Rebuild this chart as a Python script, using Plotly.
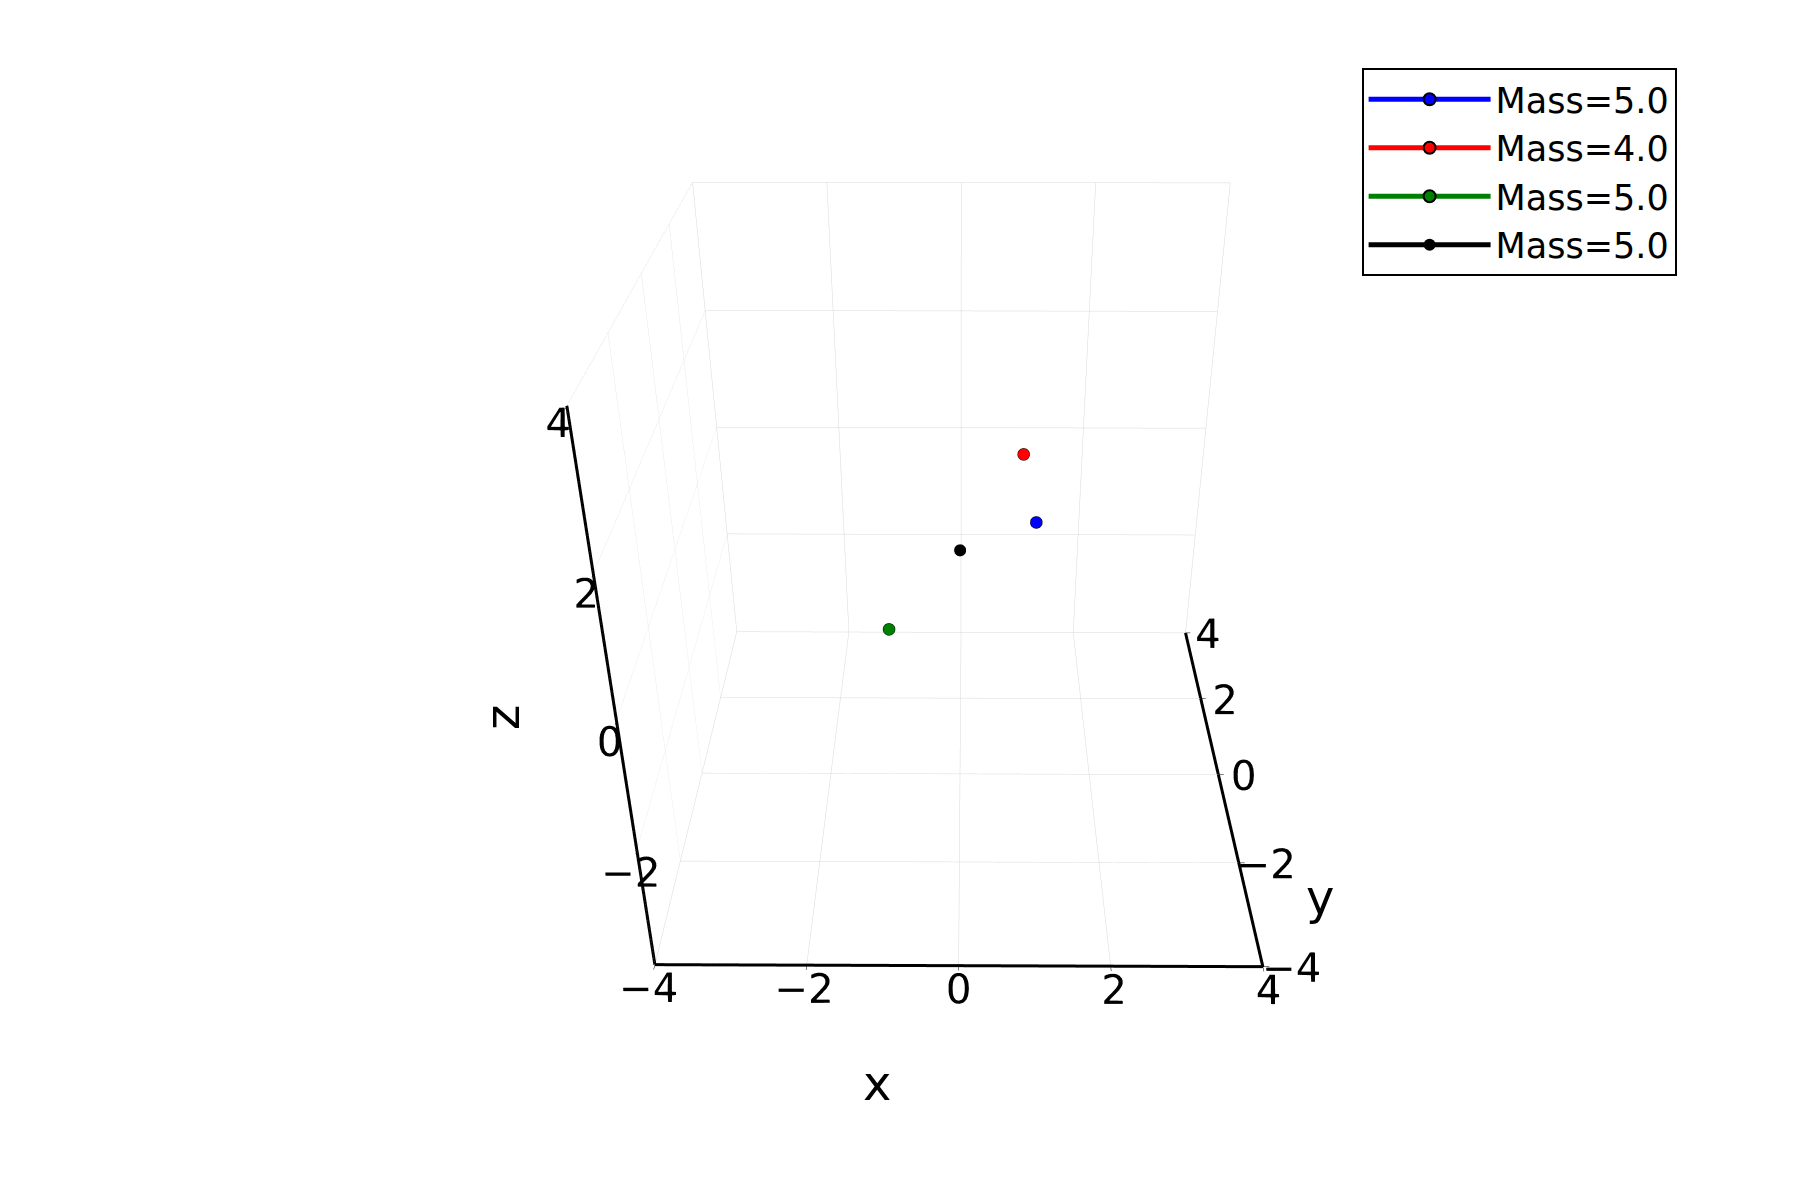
import plotly.graph_objects as go

# body positions
labels = ["Mass=5.0", "Mass=4.0", "Mass=5.0", "Mass=5.0"]
colors = ["blue", "red", "green", "black"]
xs = [1.0, 0.9, -1.0, 0.0]
ys = [-1.0, 1.0, -0.5, 0.0]
zs = [1.0, 1.0, -1.0, 0.0]
outline = ["black", "black", "black", "black"]
outline_w = [2, 2, 2, 0]

lim = 4
tickvals = [-4, -2, 0, 2, 4]
ticktext = ["\u22124", "\u22122", "0", "2", "4"]

fig = go.Figure()
for i in range(len(labels)):
    fig.add_trace(go.Scatter3d(
        x=[xs[i]], y=[ys[i]], z=[zs[i]],
        mode='lines+markers',
        name=labels[i],
        line=dict(color=colors[i], width=1.5),
        marker=dict(color=colors[i], size=7,
                    line=dict(color=outline[i], width=outline_w[i])),
    ))

# heavier axis lines along the three labelled edges of the box
fig.add_trace(go.Scatter3d(
    x=[-lim, lim, None, lim, lim, None, -lim, -lim],
    y=[-lim, -lim, None, -lim, lim, None, -lim, -lim],
    z=[-lim, -lim, None, -lim, -lim, None, -lim, lim],
    mode='lines',
    line=dict(color='black', width=6),
    showlegend=False,
    hoverinfo='skip',
))

axis = dict(
    range=[-lim, lim],
    tickvals=tickvals,
    ticktext=ticktext,
    tickfont=dict(size=22, color='black'),
    tickangle=0,
    showgrid=True,
    gridcolor='#d9d9d9',
    gridwidth=1,
    zeroline=False,
    showline=True,
    linecolor='black',
    linewidth=3,
    ticks='outside',
    tickcolor='black',
    showbackground=False,
    showspikes=False,
    title=dict(text=''),
)

fig.update_layout(
    width=1800, height=1200,
    paper_bgcolor='white',
    font=dict(family='DejaVu Sans', color='black'),
    margin=dict(l=0, r=0, t=0, b=0),
    showlegend=True,
    legend=dict(
        x=0.752, y=0.95, xanchor='left', yanchor='top',
        bordercolor='black', borderwidth=2,
        font=dict(size=35),
        itemsizing='constant',
        itemwidth=122,
        bgcolor='white',
    ),
    scene=dict(
        domain=dict(x=[0.064, 0.994], y=[0.0, 1.0]),
        xaxis=axis,
        yaxis=axis,
        zaxis=axis,
        aspectmode='cube',
        camera=dict(
            eye=dict(x=0.01, y=-2.2, z=1.27),
            up=dict(x=0, y=0, z=1),
            center=dict(x=0, y=0, z=-0.12),
            projection=dict(type='perspective'),
        ),
    ),
    annotations=[
        dict(text='x', x=869, y=1105, xref='paper', yref='paper', showarrow=False,
             font=dict(size=48)),
        dict(text='y', x=1328, y=919, xref='paper', yref='paper', showarrow=False,
             font=dict(size=48)),
        dict(text='z', x=464, y=710, xref='paper', yref='paper', showarrow=False,
             font=dict(size=48), textangle=-90),
    ],
)
# annotation positions given in pixels above; convert to paper fractions
for a in fig.layout.annotations:
    a.x = a.x / 1800
    a.y = 1 - a.y / 1200

fig.write_html("out.html")
